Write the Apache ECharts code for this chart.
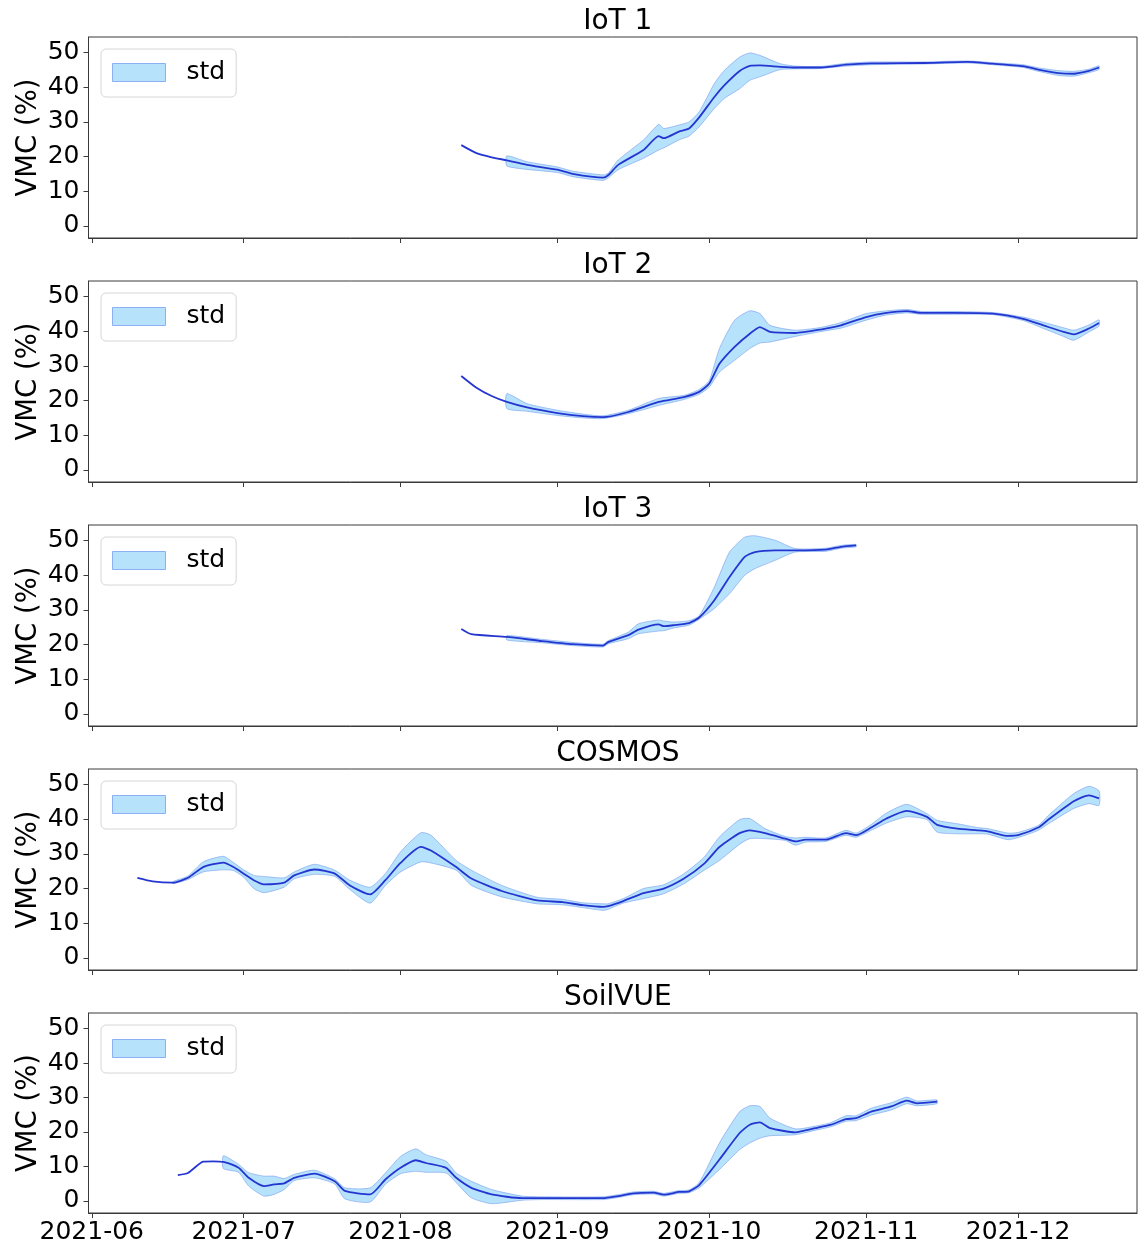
<!DOCTYPE html>
<html><head><meta charset="utf-8">
<script src="https://cdn.jsdelivr.net/npm/echarts@6/dist/echarts.min.js"></script>
<style>html,body{margin:0;padding:0;background:#fff}#c{width:1138px;height:1245px}</style>
</head><body><div id="c"></div><script>
// ---------- data ----------
const panelTitles = ['IoT 1', 'IoT 2', 'IoT 3', 'COSMOS', 'SoilVUE'];
const yTicks = [0, 10, 20, 30, 40, 50];
const xTickLabels = ['2021-06', '2021-07', '2021-08', '2021-09', '2021-10', '2021-11', '2021-12'];

const iot1Dates = ['08-13','08-16','08-19','08-22','08-26','09-01','09-04','09-10','09-11','09-13','09-18','09-21','09-22','09-25','09-27','09-29','10-02','10-04','10-07','10-09','10-11','10-15','10-18','10-23','10-28','11-02','11-12','11-21','11-26','12-02','12-05','12-09','12-12','12-15','12-17'];
const iot1Mean = [23.3,21.0,19.8,18.9,17.6,16.2,15.0,13.9,14.6,17.6,21.9,25.9,25.3,27.2,28.1,31.3,37.2,40.6,44.7,46.2,46.3,45.9,45.7,45.7,46.5,46.9,47.0,47.3,46.8,46.1,45.1,44.1,43.9,44.7,45.7];
const iot1BandDates = ['08-22','08-26','09-01','09-04','09-10','09-11','09-13','09-18','09-21','09-22','09-25','09-27','09-29','10-02','10-04','10-07','10-09','10-11','10-15','10-18','10-23','10-28','11-02','11-12','11-21','11-26','12-02','12-05','12-09','12-12','12-15','12-17'];
const iot1Lower = [17.3,16.3,15.4,14.2,13.1,13.8,16.2,19.5,21.9,22.5,24.8,25.9,28.6,33.9,36.8,39.6,42.0,43.0,45.1,45.3,45.4,46.1,46.5,46.7,47.0,46.5,45.7,44.6,43.4,43.2,44.2,45.1];
const iot1Upper = [20.2,18.5,17.0,15.8,14.7,15.2,19.0,24.8,29.3,28.1,29.1,30.0,32.9,41.1,44.9,48.7,49.9,49.2,46.8,46.1,46.0,46.9,47.3,47.3,47.6,47.1,46.5,45.6,44.8,44.6,45.2,46.2];

const iot2Dates = ['08-13','08-16','08-19','08-22','08-26','09-01','09-06','09-10','09-15','09-21','09-26','09-29','10-01','10-03','10-06','10-09','10-11','10-13','10-18','10-23','10-27','11-01','11-05','11-09','11-12','11-18','11-26','12-02','12-06','12-10','12-12','12-15','12-17'];
const iot2Mean = [27.1,23.7,21.3,19.6,18.0,16.4,15.5,15.2,16.7,19.6,21.0,22.5,24.9,30.6,35.5,39.3,41.2,39.8,39.5,40.5,41.7,44.1,45.3,45.8,45.3,45.3,45.1,43.6,41.7,39.8,39.1,40.8,42.4];
const iot2BandDates = ['08-22','08-26','09-01','09-06','09-10','09-15','09-21','09-26','09-29','10-01','10-03','10-06','10-09','10-11','10-13','10-18','10-23','10-27','11-01','11-05','11-09','11-12','11-18','11-26','12-02','12-06','12-10','12-12','12-15','12-17'];
const iot2Lower = [17.7,16.9,15.7,15.0,14.8,16.2,18.6,20.3,21.8,23.9,28.2,31.6,35.0,36.6,36.9,38.5,39.9,40.9,43.2,44.7,45.3,44.9,44.9,44.8,43.1,40.8,38.5,37.4,39.8,41.5];
const iot2Upper = [22.0,19.1,17.2,16.1,15.6,17.2,20.6,21.5,23.2,25.8,35.0,43.2,45.9,45.1,41.7,40.3,41.1,42.5,45.1,45.9,46.3,45.7,45.7,45.4,44.1,42.6,41.0,40.3,41.8,43.3];

const iot3Dates = ['08-13','08-15','08-22','08-29','09-04','09-10','09-11','09-15','09-17','09-21','09-22','09-24','09-27','09-29','10-02','10-05','10-08','10-10','10-14','10-18','10-24','10-27','10-30'];
const iot3Mean = [24.5,23.0,22.2,21.0,20.1,19.7,20.7,22.7,24.3,25.8,25.3,25.6,26.2,27.8,32.8,39.5,45.3,46.7,47.2,47.2,47.4,48.2,48.6];
const iot3BandDates = ['08-22','08-29','09-04','09-10','09-11','09-15','09-17','09-21','09-22','09-24','09-27','09-29','10-02','10-05','10-08','10-10','10-14','10-18','10-24','10-27','10-30'];
const iot3Lower = [21.3,20.5,19.7,19.3,20.2,21.7,23.1,23.9,24.0,24.8,25.6,27.3,30.4,34.7,40.0,41.9,44.3,46.7,46.9,47.8,48.2];
const iot3Upper = [22.6,21.5,20.6,20.1,21.1,23.6,26.0,27.1,26.8,26.5,26.9,28.3,36.6,46.7,51.0,51.4,50.1,47.7,47.8,48.6,48.9];

const cosmosDates = ['06-10','06-13','06-17','06-20','06-23','06-27','06-29','07-01','07-03','07-05','07-09','07-11','07-15','07-19','07-22','07-26','07-29','08-01','08-05','08-07','08-12','08-15','08-21','08-28','09-02','09-06','09-10','09-11','09-14','09-18','09-22','09-26','09-30','10-03','10-07','10-09','10-12','10-16','10-18','10-20','10-24','10-28','10-30','11-02','11-05','11-09','11-13','11-15','11-19','11-23','11-25','11-29','12-01','12-05','12-07','12-12','12-15','12-17'];
const cosmosMean = [23.1,22.1,21.7,23.1,26.2,27.5,26.2,24.3,22.4,21.2,21.7,23.8,25.5,24.3,20.9,18.3,22.4,27.4,32.0,31.0,26.2,22.9,19.3,16.6,16.1,15.2,14.7,14.9,16.4,18.7,20.0,22.9,27.2,32.0,36.0,36.8,36.0,34.4,33.6,34.1,34.1,36.0,35.4,37.6,40.2,42.4,40.7,38.4,37.3,36.8,36.5,35.2,35.4,37.6,39.9,45.2,46.9,46.0];
const cosmosBandDates = ['06-17','06-20','06-23','06-27','06-29','07-01','07-03','07-05','07-09','07-11','07-15','07-19','07-22','07-26','07-29','08-01','08-05','08-07','08-12','08-15','08-21','08-28','09-02','09-06','09-10','09-11','09-14','09-18','09-22','09-26','09-30','10-03','10-07','10-09','10-12','10-16','10-18','10-20','10-24','10-28','10-30','11-02','11-05','11-09','11-13','11-15','11-19','11-23','11-25','11-29','12-01','12-05','12-07','12-12','12-15','12-17'];
const cosmosLower = [21.4,22.6,24.8,25.4,25.2,23.3,20.0,18.8,20.4,22.8,24.1,23.5,19.7,15.8,20.9,24.8,27.7,27.4,25.3,20.9,17.6,15.6,15.3,14.5,13.7,14.0,15.8,17.1,18.5,21.4,25.3,28.1,32.8,34.4,34.4,33.9,32.5,33.4,33.6,35.4,34.8,36.8,38.9,40.7,39.9,36.3,35.8,35.8,35.7,34.1,34.7,36.8,38.7,43.1,44.5,44.0];
const cosmosUpper = [22.0,23.6,27.7,29.3,27.5,25.4,23.8,23.5,23.1,24.8,27.0,25.3,22.4,20.4,24.3,30.6,36.1,35.4,28.1,25.3,20.9,17.5,16.9,15.9,15.6,15.6,17.1,20.0,21.1,24.3,29.1,34.9,39.9,40.2,37.3,35.0,34.6,34.8,34.6,36.8,36.0,38.5,41.8,44.3,41.6,39.7,38.7,37.6,37.3,36.0,36.2,38.2,41.1,47.4,49.5,48.2];

const soilDates = ['06-18','06-20','06-23','06-25','06-27','06-30','07-02','07-05','07-07','07-09','07-11','07-15','07-19','07-21','07-26','07-29','08-01','08-04','08-06','08-10','08-12','08-15','08-19','08-25','08-29','09-10','09-13','09-16','09-20','09-22','09-25','09-27','09-29','10-03','10-07','10-09','10-11','10-13','10-18','10-22','10-25','10-28','10-30','11-02','11-06','11-09','11-11','11-15'];
const soilMean = [7.5,8.1,11.4,11.5,11.3,9.6,6.7,4.3,4.8,5.1,6.7,7.9,5.7,2.9,1.9,6.2,9.6,11.8,11.0,9.6,6.7,3.8,1.9,0.8,0.8,0.8,1.4,2.2,2.4,1.8,2.6,2.8,4.6,12.0,19.7,22.1,22.8,21.1,19.9,21.1,22.1,23.7,24.0,25.9,27.4,29.1,28.3,28.8];
const soilBandDates = ['06-27','06-30','07-02','07-05','07-07','07-09','07-11','07-15','07-19','07-21','07-26','07-29','08-01','08-04','08-06','08-10','08-12','08-15','08-19','08-25','08-29','09-10','09-13','09-16','09-20','09-22','09-25','09-27','09-29','10-03','10-07','10-09','10-11','10-13','10-18','10-22','10-25','10-28','10-30','11-02','11-06','11-09','11-11','11-15'];
const soilLower = [9.4,8.3,4.3,1.4,1.9,3.3,5.9,6.7,4.9,0.6,-0.3,4.8,7.9,8.6,8.3,8.1,5.3,0.9,-0.8,0.2,0.4,0.4,1.0,1.8,2.0,1.4,2.2,2.4,3.8,9.1,14.9,16.8,18.2,18.9,19.2,20.5,21.5,23.1,23.3,24.9,26.4,28.2,27.6,28.2];
const soilUpper = [13.1,10.6,8.2,7.2,7.2,6.5,7.7,8.9,6.4,3.8,3.8,8.1,12.9,15.1,13.4,11.5,8.1,5.7,3.3,1.4,1.2,1.2,1.8,2.6,2.8,2.2,3.0,3.2,5.3,16.8,25.9,27.6,27.4,24.0,20.9,21.7,22.7,24.7,24.7,26.9,28.5,30.1,29.0,29.3];

// ---------- build ----------
const panels = [
  [iot1Dates, iot1Mean, iot1BandDates, iot1Lower, iot1Upper],
  [iot2Dates, iot2Mean, iot2BandDates, iot2Lower, iot2Upper],
  [iot3Dates, iot3Mean, iot3BandDates, iot3Lower, iot3Upper],
  [cosmosDates, cosmosMean, cosmosBandDates, cosmosLower, cosmosUpper],
  [soilDates, soilMean, soilBandDates, soilLower, soilUpper]
];
const FONT = 'DejaVu Sans';
const LINE = '#2536d0';
const FILL = '#b7e2fc';
const EDGE = 'rgba(110,150,235,0.55)';
const AX = '#3a3a3a';
const DAY = 86400000;
const tp = s => +echarts.time.parse(s);
const d = s => tp('2021-' + s);
const t0 = tp('2021-06-01');
const xMin = t0 - 0.65 * DAY;
const xMax = t0 + 206.5 * DAY;
const xTickVals = xTickLabels.map(s => tp(s + '-01'));

const grids = [], xAxes = [], yAxes = [], series = [], titles = [], legends = [];
panels.forEach((p, i) => {
  const [dates, mean, bDates, lo, up] = p;
  const top = 37 + 244 * i;
  grids.push({left: 88.5, width: 1048.5, top: top, height: 201, show: true,
    borderColor: AX, borderWidth: 1, backgroundColor: 'transparent'});
  xAxes.push({type: 'value', gridIndex: i, min: xMin, max: xMax,
    axisLine: {show: true, onZero: false, lineStyle: {color: AX, width: 1}},
    axisTick: {show: true, customValues: xTickVals, length: 5, lineStyle: {color: AX}},
    axisLabel: {show: i === 4, customValues: xTickVals, fontSize: 25, color: '#000', fontFamily: FONT, margin: 7,
      formatter: v => echarts.time.format(v, '{yyyy}-{MM}', false)},
    splitLine: {show: false}});
  yAxes.push({type: 'value', gridIndex: i, min: -3.5, max: 54.5,
    name: 'VMC (%)', nameLocation: 'middle', nameGap: 46, nameMoveOverlap: false,
    nameTextStyle: {fontSize: 27.5, color: '#000', fontFamily: FONT},
    axisLine: {show: true, onZero: false, lineStyle: {color: AX, width: 1}},
    axisTick: {show: true, customValues: yTicks, length: 5, lineStyle: {color: AX}},
    axisLabel: {customValues: yTicks, fontSize: 25, color: '#000', fontFamily: FONT, margin: 9},
    splitLine: {show: false}});
  titles.push({text: panelTitles[i], left: 612.8, textAlign: 'center', top: top - 34,
    textStyle: {fontSize: 28, fontWeight: 'normal', color: '#000', fontFamily: FONT}});
  legends.push({left: 101, top: top + 12, orient: 'horizontal', selectedMode: false,
    data: [{name: 'std', icon: 'rect', itemStyle: {color: FILL, borderColor: 'rgba(120,160,240,0.8)', borderWidth: 1}}],
    itemWidth: 53, itemHeight: 18, backgroundColor: '#fff', borderColor: '#d6d6d6', borderWidth: 1,
    borderRadius: 5, padding: [11, 11, 12, 11],
    textStyle: {fontSize: 25, color: '#000', fontFamily: FONT, padding: [0, 0, 0, 16]}});
  // std band: polygon lower -> upper (reversed), positioned through the axes' scales
  series.push({name: 'std', type: 'custom', xAxisIndex: i, yAxisIndex: i, silent: true, z: 2,
    itemStyle: {color: FILL},
    data: bDates.map((s, k) => [d(s), lo[k], up[k]]),
    encode: {x: 0, y: [1, 2]},
    renderItem: (params, api) => {
      if (params.dataIndex !== 0) return null;
      const pts = [];
      for (let k = 0; k < bDates.length; k++) pts.push(api.coord([d(bDates[k]), lo[k]]));
      for (let k = bDates.length - 1; k >= 0; k--) pts.push(api.coord([d(bDates[k]), up[k]]));
      return {type: 'polygon', shape: {points: pts, smooth: 0.2},
        style: {fill: FILL, stroke: EDGE, lineWidth: 1}};
    }});
  series.push({type: 'line', xAxisIndex: i, yAxisIndex: i,
    data: dates.map((s, k) => [d(s), mean[k]]), symbol: 'none', smooth: 0.2, silent: true,
    lineStyle: {width: 1.8, color: LINE}, z: 5});
});

const chart = echarts.init(document.getElementById('c'), null, {renderer: 'canvas'});
chart.setOption({
  animation: false, backgroundColor: '#fff',
  title: titles, legend: legends, grid: grids, xAxis: xAxes, yAxis: yAxes, series: series
});
</script></body></html>
